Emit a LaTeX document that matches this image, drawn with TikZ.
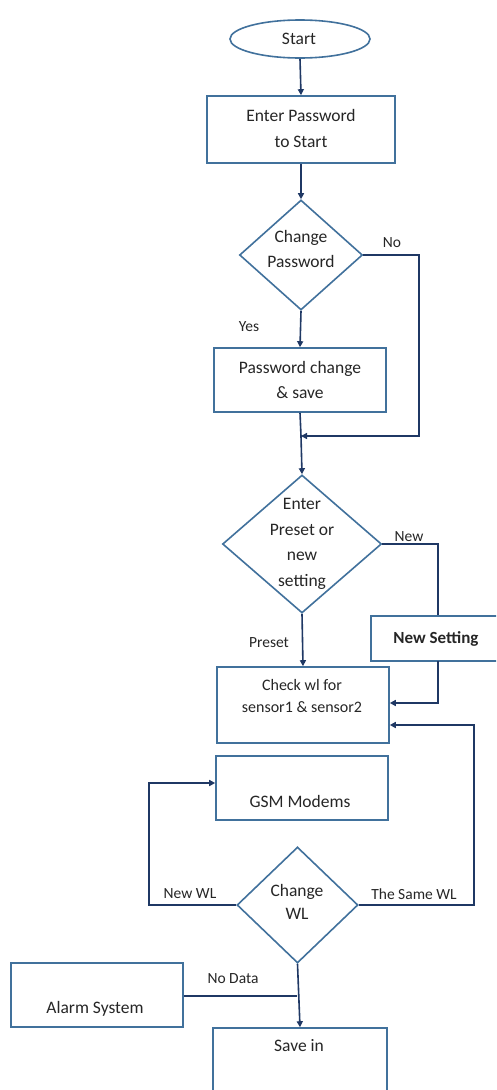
\documentclass[tikz,border=0pt]{standalone}
\usepackage{fontspec}
\setmainfont{Carlito}
\usetikzlibrary{arrows.meta,shapes.geometric}
\definecolor{boxblue}{HTML}{41719C}
\definecolor{linenavy}{HTML}{1F3864}
\tikzset{
  x=1pt, y=-1pt,
  box/.style={draw=boxblue, line width=1.6pt, rectangle, inner sep=0pt, fill=white},
  term/.style={draw=boxblue, line width=1.6pt, ellipse, inner sep=0pt},
  dia/.style={draw=boxblue, line width=1.6pt, diamond, inner sep=0pt},
  txt/.style={font=\fontsize{17.5}{25}\selectfont, align=center, inner sep=0pt, text=black!85},
  lbl/.style={font=\fontsize{15.5}{18}\selectfont, inner sep=0pt, text=black!85},
  conn/.style={draw=linenavy, line width=1.6pt},
  arr/.style={conn, -{Triangle[length=6pt,width=6pt]}},
}
\begin{document}
\begin{tikzpicture}
\useasboundingbox (0,0) rectangle (496,1090);
\clip (0,0) rectangle (496,1090);
\fill[white] (0,0) rectangle (496,1090);

% nodes
\node[term, minimum width=140, minimum height=38] (start) at (300,39) {};
\node[txt] (starttxt) at (299,39) {Start};

\node[box, minimum width=188, minimum height=67] (enter) at (301,129.5) {};
\node[txt, font=\fontsize{17.5}{26}\selectfont] (entertxt) at (301,128) {Enter Password\\to Start};

\node[dia, aspect=1.12, minimum width=123, minimum height=110] (chg) at (301,255) {};
\node[txt] (chgtxt) at (301,249) {Change\\Password};

\node[box, minimum width=172, minimum height=64] (pwsave) at (300,380) {};
\node[txt] (pwsavetxt) at (300,379.5) {Password change\\\& save};

\node[dia, aspect=1.15, minimum width=159, minimum height=138] (preset) at (302,544) {};
\node[txt, font=\fontsize{17.5}{25.5}\selectfont] (presettxt) at (302,544) {Enter\\Preset or\\new\\setting};

\node[box, minimum width=150, minimum height=45] (newset) at (446,638.5) {};
\node[txt, font=\bfseries\fontsize{17}{20}\selectfont] (newsettxt) at (436,639) {New Setting};

\node[box, minimum width=172, minimum height=76] (check) at (303,705) {};
\node[txt, font=\fontsize{16}{22}\selectfont] (checktxt) at (302,696) {Check wl for\\sensor1 \& sensor2};

\node[box, minimum width=172, minimum height=64] (gsm) at (302,788) {};
\node[txt] (gsmtxt) at (300,801) {GSM Modems};

\node[dia, aspect=1.04, minimum width=121, minimum height=116] (cwl) at (297.5,905) {};
\node[txt, font=\fontsize{17.5}{23}\selectfont] (cwltxt) at (297,901.5) {Change\\WL};

\node[box, minimum width=172, minimum height=64] (alarm) at (97,995) {};
\node[txt] (alarmtxt) at (95,1009) {Alarm System};

\node[box, minimum width=174, minimum height=100] (savein) at (300,1078) {};
\node[txt] (saveintxt) at (299,1046) {Save in};

% labels
\node[lbl] (lno) at (392,243) {No};
\node[lbl] (lyes) at (249,327) {Yes};
\node[lbl] (lnew) at (409,537) {New};
\node[lbl] (lpreset) at (269,643) {Preset};
\node[lbl] (lnewwl) at (190,894) {New WL};
\node[lbl] (lsame) at (414,894) {The Same WL};
\node[lbl] (lnodata) at (233,979) {No Data};

% junction coordinates
\coordinate (j1) at (301,436);
\coordinate (j2) at (297,996);

% connectors
\draw[arr] (start.south) -- (enter.north);
\draw[arr] (enter.south) -- (chg.north);
\draw[arr] (chg.south) -- (pwsave.north);
\draw[conn] (pwsave.south) -- (j1);
\draw[arr] (chg.east) -| (419,436) -- (j1);
\draw[arr] (j1) -- (preset.north);
\draw[conn] (preset.east) -| (newset.north -| 438,0);
\draw[arr] (preset.south) -- (check.north);
\draw[arr] (438,661) |- (check.east |- 0,703);
\draw[arr] (cwl.east) -| (474,725) -- (check.east |- 0,725);
\draw[arr] (cwl.west) -| (149,783) -- (gsm.west |- 0,783);
\draw[conn] (alarm.east |- j2) -- (j2);
\draw[arr] (cwl.south) -- (savein.north);
\end{tikzpicture}
\end{document}
